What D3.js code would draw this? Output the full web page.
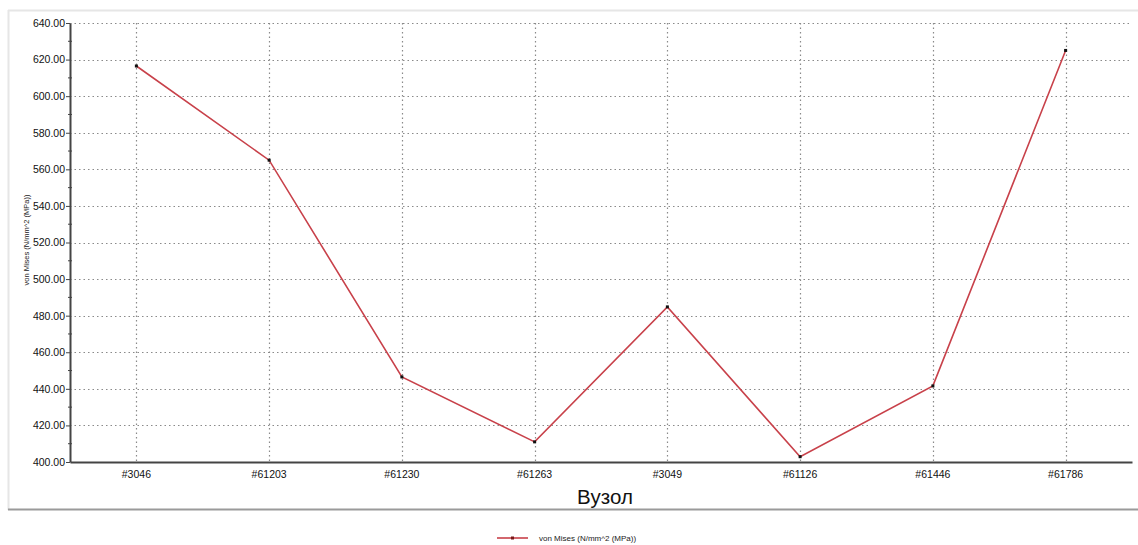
<!DOCTYPE html>
<html><head><meta charset="utf-8">
<script src="https://cdn.jsdelivr.net/npm/d3@7"></script>
<style>
html,body{margin:0;padding:0;background:#fff;}
svg{display:block;font-family:"Liberation Sans",Arial,sans-serif;}
</style></head>
<body>
<svg id="c" width="1138" height="545"></svg>
<script>
const categories = ["#3046","#61203","#61230","#61263","#3049","#61126","#61446","#61786"];
const values = [616.5, 565.0, 446.5, 411.0, 484.8, 402.9, 441.6, 625.0];
const yTicks = [400,420,440,460,480,500,520,540,560,580,600,620,640];
const seriesName = "von Mises (N/mm^2 (MPa))";
const xTitle = "Вузол";

const svg = d3.select("#c");
const L = 70, R = 1132, T = 23, B = 462;

// outer frame
svg.append("line").attr("x1",8).attr("x2",1138).attr("y1",10.5).attr("y2",10.5).attr("stroke","#e6e6e6").attr("stroke-width",2);
svg.append("line").attr("x1",8.5).attr("x2",8.5).attr("y1",10).attr("y2",510).attr("stroke","#e6e6e6").attr("stroke-width",2);
svg.append("line").attr("x1",8).attr("x2",1138).attr("y1",509.5).attr("y2",509.5).attr("stroke","#9a9a9a").attr("stroke-width",2);

const x = d3.scaleBand().domain(categories).range([L,R]).padding(0);
const xc = d => x(d) + x.bandwidth()/2;
const y = d3.scaleLinear().domain([400,640]).range([B,T]);

// gridlines
const g = svg.append("g");
g.selectAll(".hg").data(yTicks.filter(v=>v>400)).join("line")
  .attr("x1",L).attr("x2",R).attr("y1",d=>Math.round(y(d))+0.5).attr("y2",d=>Math.round(y(d))+0.5)
  .attr("stroke","#8a8a8a").attr("stroke-dasharray","1.5,3").attr("stroke-width",1.2);
g.selectAll(".vg").data(categories).join("line")
  .attr("x1",d=>Math.round(xc(d))+0.5).attr("x2",d=>Math.round(xc(d))+0.5).attr("y1",T).attr("y2",B)
  .attr("stroke","#8a8a8a").attr("stroke-dasharray","1.5,3").attr("stroke-width",1.2);

// y axis
const ya = svg.append("g").attr("transform",`translate(${L},0)`)
  .call(d3.axisLeft(y).tickValues(yTicks).tickFormat(d3.format(".2f")).tickSize(4).tickSizeOuter(0));
ya.select(".domain").attr("stroke","#444").attr("stroke-width",2);
ya.selectAll(".tick line").attr("stroke","#444");
ya.selectAll(".tick text").attr("font-size",10.5).attr("fill","#111").attr("x",-5);
// minor ticks
svg.append("g").selectAll("line").data(d3.range(410,640,20)).join("line")
  .attr("x1",L-2).attr("x2",L+2).attr("y1",d=>y(d)).attr("y2",d=>y(d)).attr("stroke","#444");

// x axis
const xa = svg.append("g").attr("transform",`translate(0,${B})`)
  .call(d3.axisBottom(x).tickSize(0).tickSizeOuter(0));
xa.select(".domain").attr("stroke","#444").attr("stroke-width",2);
xa.selectAll(".tick text").attr("font-size",10.5).attr("fill","#111").attr("dy","1.2em");

// titles
svg.append("text").attr("x",605).attr("y",504).attr("text-anchor","middle")
  .attr("font-size",20.5).attr("fill","#111").text(xTitle);
svg.append("text").attr("transform","translate(29,240) rotate(-90)").attr("text-anchor","middle")
  .attr("font-size",7.5).attr("fill","#222").text(seriesName);

// series
const line = d3.line().x((d,i)=>xc(categories[i])).y(d=>y(d));
svg.append("path").datum(values).attr("d",line).attr("fill","none")
  .attr("stroke","#c8414a").attr("stroke-width",1.6);
svg.append("g").selectAll("rect").data(values).join("rect")
  .attr("x",(d,i)=>xc(categories[i])-1.5).attr("y",d=>y(d)-1.5).attr("width",3).attr("height",3).attr("fill","#111");

// legend
svg.append("line").attr("x1",497).attr("x2",528).attr("y1",538).attr("y2",538).attr("stroke","#c8414a").attr("stroke-width",1.6);
svg.append("rect").attr("x",511).attr("y",536.5).attr("width",3).attr("height",3).attr("fill","#7a1a1a");
svg.append("text").attr("x",539).attr("y",541).attr("font-size",8).attr("fill","#222").text(seriesName);
</script>
</body></html>
